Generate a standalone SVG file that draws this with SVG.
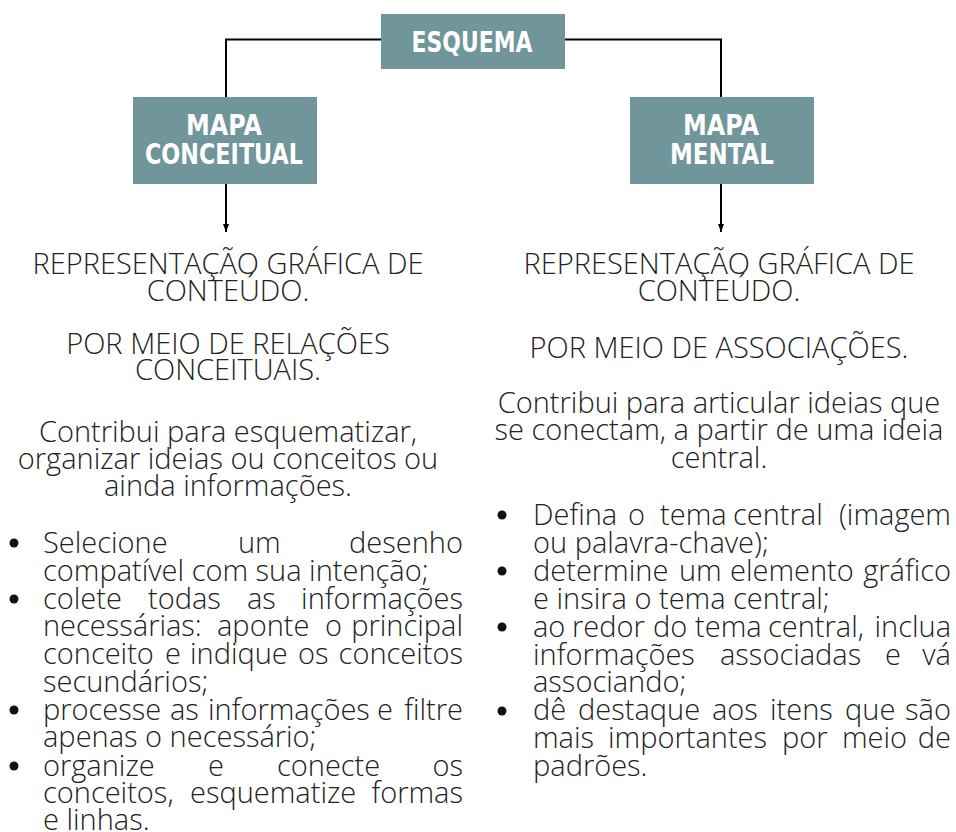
<svg xmlns="http://www.w3.org/2000/svg" width="956" height="832" viewBox="0 0 956 832">
<defs>
<style>
.box{fill:#70959a}
.ttl{font-family:"DejaVu Sans",sans-serif;font-weight:bold;font-size:29px;fill:#fff}
.b{font-family:"Open Sans","Liberation Sans",sans-serif;font-weight:300;font-size:29px;fill:#222}
.c{text-anchor:middle}
.e{text-anchor:end}
.ln{fill:none;stroke:#000;stroke-width:2}
.dot{fill:#111}
</style>
<marker id="ah" viewBox="0 0 8 6" markerWidth="8" markerHeight="6" refX="8" refY="3" orient="auto" markerUnits="userSpaceOnUse">
<path d="M0,0 L8,3 L0,6 z" fill="#000"/>
</marker>
</defs>
<rect width="956" height="832" fill="#fff"/>
<g id="connectors">
<path class="ln" d="M381 39.5 H226 V97"/>
<path class="ln" d="M565 39.5 H721 V97"/>
<path class="ln" d="M226 184 V232" marker-end="url(#ah)"/>
<path class="ln" d="M721 184 V232" marker-end="url(#ah)"/>
</g>
<g id="esquema">
<rect class="box" x="381" y="14" width="184" height="55"/>
<text class="ttl" x="411.5" y="52" textLength="121" lengthAdjust="spacingAndGlyphs">ESQUEMA</text>
</g>
<g id="mapa-conceitual">
<rect class="box" x="133" y="97" width="184" height="87"/>
<text class="ttl" x="186" y="135" textLength="76" lengthAdjust="spacingAndGlyphs">MAPA</text>
<text class="ttl" x="145" y="164" textLength="158" lengthAdjust="spacingAndGlyphs">CONCEITUAL</text>
</g>
<g id="mapa-mental">
<rect class="box" x="630" y="97" width="184" height="87"/>
<text class="ttl" x="683" y="135" textLength="76" lengthAdjust="spacingAndGlyphs">MAPA</text>
<text class="ttl" x="670" y="164" textLength="104" lengthAdjust="spacingAndGlyphs">MENTAL</text>
</g>
<g id="left-text" class="b">
<text class="c" x="228" y="274">REPRESENTAÇÃO GRÁFICA DE</text>
<text class="c" x="228" y="301">CONTEÚDO.</text>
<text class="c" x="228" y="354">POR MEIO DE RELAÇÕES</text>
<text class="c" x="228" y="380">CONCEITUAIS.</text>
<text class="c" x="228" y="442">Contribui para esquematizar,</text>
<text class="c" x="228" y="469">organizar ideias ou conceitos ou</text>
<text class="c" x="228" y="496">ainda informações.</text>
</g>
<g id="left-list" class="b">
<circle class="dot" cx="14" cy="543" r="4.5"/>
<circle class="dot" cx="14" cy="599" r="4.5"/>
<circle class="dot" cx="14" cy="710" r="4.5"/>
<circle class="dot" cx="14" cy="766" r="4.5"/>
<text y="553"><tspan x="43">Selecione</tspan><tspan x="238">um</tspan><tspan x="463" class="e">desenho</tspan></text>
<text x="43" y="581">compatível com sua intenção;</text>
<text y="609"><tspan x="43">colete</tspan><tspan x="148">todas</tspan><tspan x="247">as</tspan><tspan x="463" class="e">informações</tspan></text>
<text y="636"><tspan x="43">necessárias:</tspan><tspan x="217">aponte</tspan><tspan x="325">o</tspan><tspan x="463" class="e">principal</tspan></text>
<text y="664"><tspan x="43">conceito</tspan><tspan x="165">e</tspan><tspan x="190">indique</tspan><tspan x="298">os</tspan><tspan x="463" class="e">conceitos</tspan></text>
<text x="43" y="692">secundários;</text>
<text y="720"><tspan x="43">processe</tspan><tspan x="170">as</tspan><tspan x="208">informações</tspan><tspan x="377">e</tspan><tspan x="463" class="e">filtre</tspan></text>
<text x="43" y="747">apenas o necessário;</text>
<text y="776"><tspan x="43">organize</tspan><tspan x="208">e</tspan><tspan x="277">conecte</tspan><tspan x="463" class="e">os</tspan></text>
<text y="803"><tspan x="43">conceitos,</tspan><tspan x="190">esquematize</tspan><tspan x="463" class="e">formas</tspan></text>
<text x="43" y="830">e linhas.</text>
</g>
<g id="right-text" class="b">
<text class="c" x="719" y="274">REPRESENTAÇÃO GRÁFICA DE</text>
<text class="c" x="719" y="301">CONTEÚDO.</text>
<text class="c" x="719" y="358">POR MEIO DE ASSOCIAÇÕES.</text>
<text class="c" x="719" y="413">Contribui para articular ideias que</text>
<text class="c" x="719" y="440">se conectam, a partir de uma ideia</text>
<text class="c" x="719" y="468">central.</text>
</g>
<g id="right-list" class="b">
<circle class="dot" cx="502" cy="515" r="4.5"/>
<circle class="dot" cx="502" cy="571" r="4.5"/>
<circle class="dot" cx="502" cy="627" r="4.5"/>
<circle class="dot" cx="502" cy="711" r="4.5"/>
<text y="525"><tspan x="533">Defina</tspan><tspan x="628">o</tspan><tspan x="660">tema</tspan><tspan x="733">central</tspan><tspan x="951" class="e">(imagem</tspan></text>
<text x="533" y="553">ou palavra-chave);</text>
<text y="581"><tspan x="533">determine</tspan><tspan x="679">um</tspan><tspan x="730">elemento</tspan><tspan x="951" class="e">gráfico</tspan></text>
<text x="533" y="609">e insira o tema central;</text>
<text y="637"><tspan x="533">ao</tspan><tspan x="572">redor</tspan><tspan x="653">do</tspan><tspan x="695">tema</tspan><tspan x="768">central,</tspan><tspan x="951" class="e">inclua</tspan></text>
<text y="665"><tspan x="533">informações</tspan><tspan x="720">associadas</tspan><tspan x="885">e</tspan><tspan x="951" class="e">vá</tspan></text>
<text x="533" y="692">associando;</text>
<text y="720"><tspan x="533">dê</tspan><tspan x="578">destaque</tspan><tspan x="712">aos</tspan><tspan x="770">itens</tspan><tspan x="845">que</tspan><tspan x="951" class="e">são</tspan></text>
<text y="748"><tspan x="533">mais</tspan><tspan x="608">importantes</tspan><tspan x="782">por</tspan><tspan x="842">meio</tspan><tspan x="951" class="e">de</tspan></text>
<text x="533" y="776">padrões.</text>
</g>
</svg>
